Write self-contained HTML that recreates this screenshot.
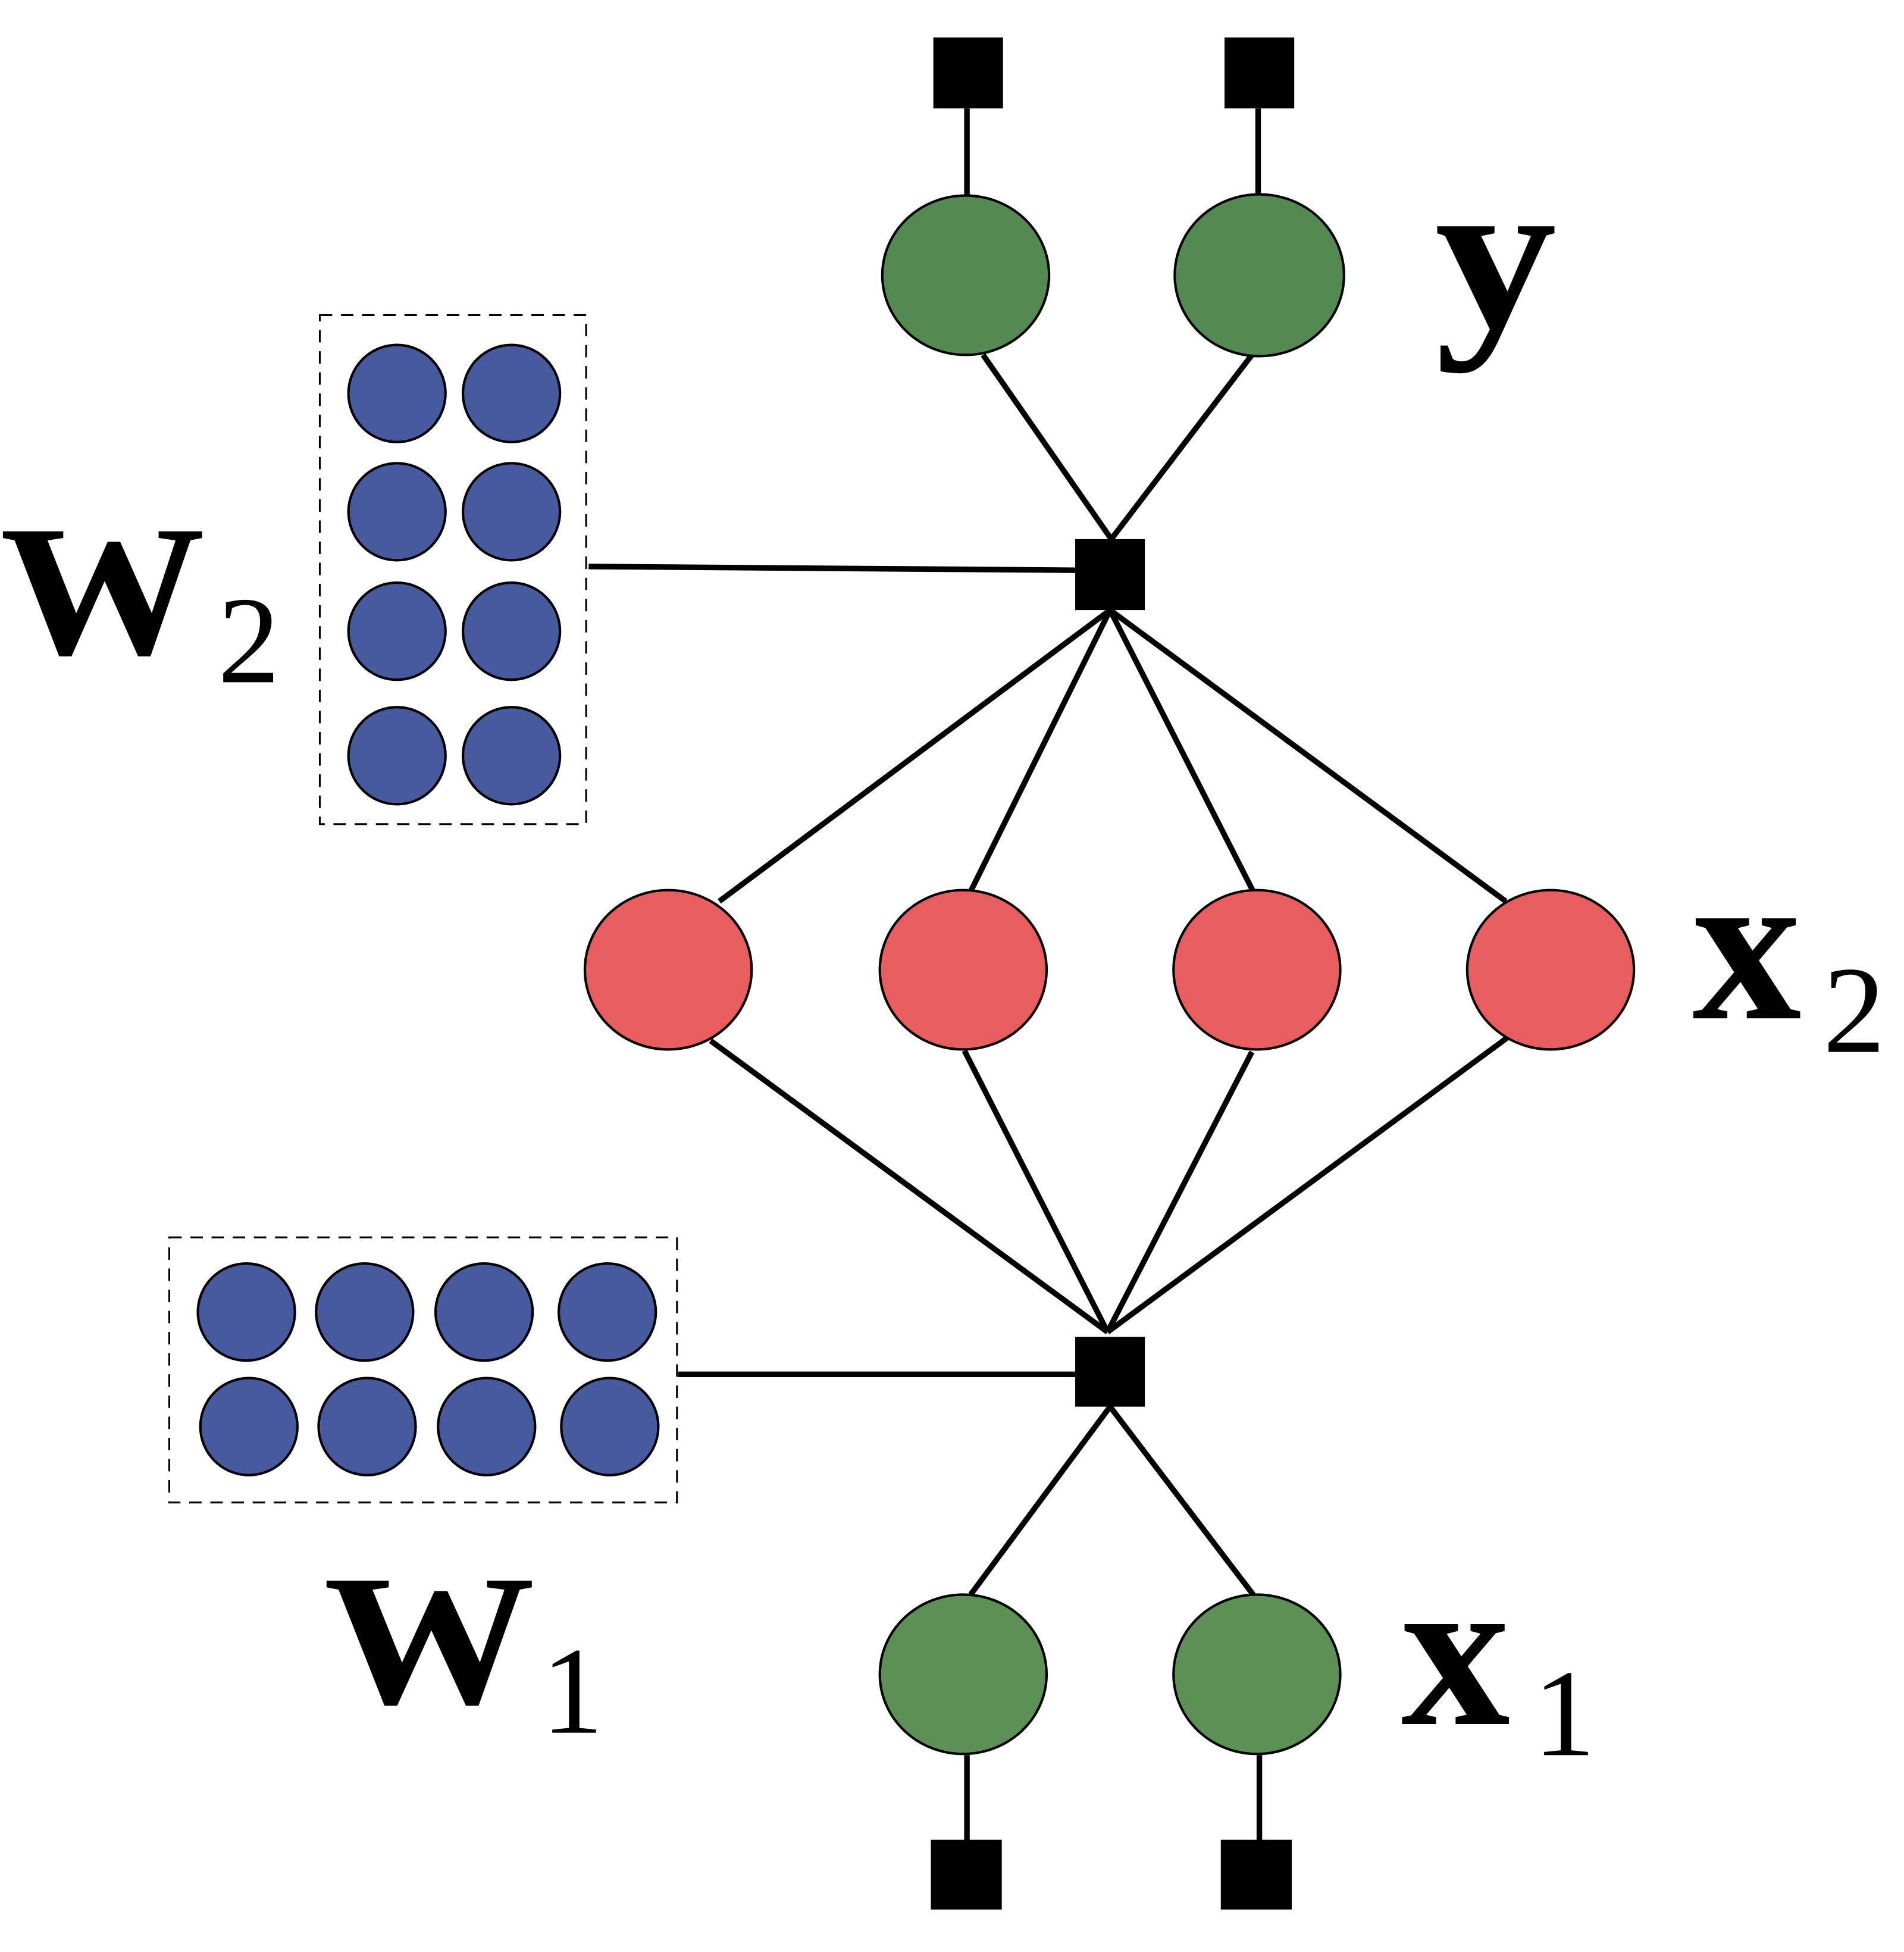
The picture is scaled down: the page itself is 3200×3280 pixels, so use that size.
<!DOCTYPE html>
<html><head><style>html,body{margin:0;padding:0;background:#fff;}svg{display:block;}</style></head>
<body>
<svg width="3200" height="3280" viewBox="0 0 1530 1568" xmlns="http://www.w3.org/2000/svg">
<rect width="1530" height="1568" fill="#fff"/>
<g stroke="#000" stroke-width="4.5" fill="none">
<line x1="777" y1="87" x2="777" y2="157"/>
<line x1="1011" y1="87" x2="1011" y2="157"/>
<line x1="790" y1="285" x2="893" y2="433"/>
<line x1="1006" y1="285" x2="893" y2="433"/>
<line x1="473" y1="455" x2="864" y2="458"/>
<line x1="892" y1="490" x2="578" y2="724"/>
<line x1="892" y1="490" x2="780" y2="716"/>
<line x1="892" y1="490" x2="1007" y2="716"/>
<line x1="892" y1="490" x2="1210" y2="724"/>
<line x1="571" y1="836" x2="890" y2="1070"/>
<line x1="775" y1="844" x2="890" y2="1070"/>
<line x1="1006" y1="845" x2="890" y2="1070"/>
<line x1="1212" y1="833" x2="890" y2="1070"/>
<line x1="545" y1="1104" x2="864" y2="1104"/>
<line x1="892" y1="1130" x2="780" y2="1281"/>
<line x1="892" y1="1130" x2="1007" y2="1281"/>
<line x1="777" y1="1410" x2="777" y2="1478"/>
<line x1="1012" y1="1410" x2="1012" y2="1478"/>
</g>
<g fill="#000">
<rect x="750" y="30" width="56" height="57"/>
<rect x="984" y="30" width="56" height="57"/>
<rect x="864" y="433" width="56" height="57"/>
<rect x="864" y="1074" width="56" height="56"/>
<rect x="748" y="1478" width="57" height="56"/>
<rect x="981" y="1478" width="57" height="56"/>
</g>
<g stroke="#000" stroke-width="2">
<ellipse cx="776" cy="221" rx="67" ry="64" fill="#528a52"/>
<ellipse cx="1012" cy="221" rx="68" ry="65" fill="#528a52"/>
<ellipse cx="537" cy="779" rx="67" ry="64" fill="#e85e5e"/>
<ellipse cx="774" cy="779" rx="67" ry="64" fill="#e85e5e"/>
<ellipse cx="1010" cy="779" rx="67" ry="64" fill="#e85e5e"/>
<ellipse cx="1246" cy="779" rx="67" ry="64" fill="#e85e5e"/>
<ellipse cx="774" cy="1345" rx="67" ry="64" fill="#5c9055"/>
<ellipse cx="1010" cy="1345" rx="67" ry="64" fill="#5c9055"/>
</g>
<g stroke="#000" stroke-width="1.5" fill="none" stroke-dasharray="10,7">
<rect x="257" y="253" width="214" height="409"/>
<rect x="136" y="994" width="408" height="213"/>
</g>
<g stroke="#000" stroke-width="2" fill="#475a9e">
<circle cx="319" cy="316" r="39"/><circle cx="411" cy="316" r="39"/>
<circle cx="319" cy="411" r="39"/><circle cx="411" cy="411" r="39"/>
<circle cx="319" cy="507" r="39"/><circle cx="411" cy="507" r="39"/>
<circle cx="319" cy="607" r="39"/><circle cx="411" cy="607" r="39"/>
<circle cx="198" cy="1054" r="39"/><circle cx="293" cy="1054" r="39"/><circle cx="389" cy="1054" r="39"/><circle cx="488" cy="1054" r="39"/>
<circle cx="200" cy="1146" r="39"/><circle cx="295" cy="1146" r="39"/><circle cx="391" cy="1146" r="39"/><circle cx="490" cy="1146" r="39"/>
</g>
<g font-family="'Liberation Serif', serif" fill="#000">
<text x="1153" y="262" font-size="175" font-weight="bold" textLength="98" lengthAdjust="spacingAndGlyphs">y</text>
<text x="0" y="525" font-size="150" font-weight="bold" textLength="165" lengthAdjust="spacingAndGlyphs">W</text>
<text x="175" y="548" font-size="100">2</text>
<text x="1360" y="818" font-size="175" font-weight="bold">x</text>
<text x="1465" y="845" font-size="100">2</text>
<text x="260" y="1368" font-size="150" font-weight="bold" textLength="170" lengthAdjust="spacingAndGlyphs">W</text>
<text x="435" y="1392" font-size="100">1</text>
<text x="1126" y="1385" font-size="175" font-weight="bold">x</text>
<text x="1232" y="1410" font-size="100">1</text>
</g>
</svg>
</body></html>
